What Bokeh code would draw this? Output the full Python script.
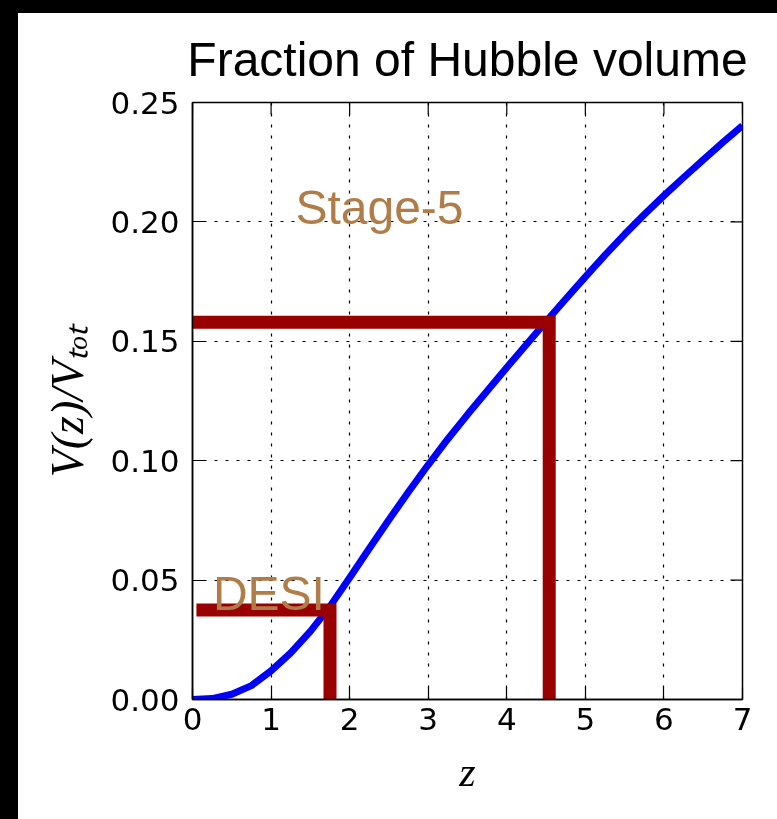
import math
from bokeh.plotting import figure
from bokeh.models import FixedTicker, Label, Range1d, NumeralTickFormatter, Spacer
from bokeh.layouts import column, row
from bokeh.embed import file_html
from bokeh.resources import INLINE

# ---- data ----
z_values = [0.0, 0.25, 0.5, 0.75, 1.0, 1.25, 1.5, 1.75, 2.0, 2.25, 2.5, 2.75, 3.0,
            3.25, 3.5, 3.75, 4.0, 4.25, 4.5, 4.75, 5.0, 5.25, 5.5, 5.75, 6.0,
            6.25, 6.5, 6.75, 7.0]
vfrac_values = [0.0, 0.0004, 0.0022, 0.0058, 0.0120, 0.0195, 0.0285, 0.0390, 0.0510,
                0.0632, 0.0753, 0.0870, 0.0983, 0.1091, 0.1193, 0.1292, 0.1390,
                0.1487, 0.1583, 0.1677, 0.1770, 0.1861, 0.1948, 0.2031, 0.2110,
                0.2186, 0.2260, 0.2333, 0.2403]

survey_names = ["DESI", "Stage-5"]
survey_z = [1.75, 4.54]          # redshift reach of each survey
survey_vfrac = [0.0375, 0.158]   # volume fraction reached
survey_zstart = [0.05, 0.0]

x_ticks = [0, 1, 2, 3, 4, 5, 6, 7]
y_ticks = [0.0, 0.05, 0.10, 0.15, 0.20, 0.25]

# ---- figure ----
p = figure(width=759, height=806, x_range=Range1d(0, 7), y_range=Range1d(0, 0.25),
           output_backend="svg", toolbar_location=None,
           title="Fraction of Hubble volume",
           min_border_left=174, min_border_right=35, min_border_top=89, min_border_bottom=120)
p.background_fill_color = "white"
p.border_fill_color = "white"
p.outline_line_color = "black"
p.outline_line_width = 1.5
p.outline_line_alpha = 1.0

p.title.text_font = "Liberation Sans"
p.title.text_font_size = "48px"
p.title.text_font_style = "normal"
p.title.text_color = "black"
p.title.align = "center"
p.title.standoff = 33

p.xaxis.ticker = FixedTicker(ticks=x_ticks)
p.yaxis.ticker = FixedTicker(ticks=y_ticks)
p.yaxis.formatter = NumeralTickFormatter(format="0.00")
for ax in (p.xaxis, p.yaxis):
    ax.major_tick_in = 12
    ax.major_tick_out = 0
    ax.major_tick_line_color = "black"
    ax.major_tick_line_width = 1.2
    ax.minor_tick_line_color = None
    ax.axis_line_color = "black"
    ax.axis_line_width = 1.5
    ax.major_label_text_font = "DejaVu Sans"
    ax.major_label_text_font_size = "31px"
    ax.major_label_text_color = "black"
    ax.axis_label_text_font = "Liberation Serif"
    ax.axis_label_text_font_style = "italic"
    ax.axis_label_text_color = "black"
p.xaxis.axis_label_text_font_size = "42px"
p.yaxis.axis_label_text_font_size = "46px"
p.xaxis.major_label_standoff = 8
p.yaxis.major_label_standoff = 13
p.xaxis.axis_label = "z"
p.yaxis.axis_label = "V(z)/V\u209c\u2092\u209c"
p.xaxis.axis_label_standoff = 16
p.yaxis.axis_label_standoff = 14

for g in (p.xgrid, p.ygrid):
    g.grid_line_color = "black"
    g.grid_line_dash = "3 8"
    g.grid_line_width = 1.2
    g.grid_line_alpha = 1.0

# inward ticks on the top and right edges
p.ray(x=x_ticks, y=[0.25] * len(x_ticks), length=12, angle=-math.pi / 2,
      length_units="screen", line_color="black", line_width=1.2)
p.ray(x=[7] * len(y_ticks), y=y_ticks, length=12, angle=math.pi,
      length_units="screen", line_color="black", line_width=1.2)

# curve
p.line(z_values, vfrac_values, line_color="#0000ff", line_width=7)

# survey markers
for zs, zr, vr in zip(survey_zstart, survey_z, survey_vfrac):
    p.line([zs, zr, zr], [vr, vr, 0.0], line_color="#990000", line_width=13,
           line_join="miter", line_cap="butt")

label_color = "#b07d48"
p.add_layout(Label(x=0.26, y=0.0443, text=survey_names[0], text_font="Liberation Sans",
                   text_font_size="48px", text_color=label_color,
                   text_baseline="alphabetic", text_align="left"))
p.add_layout(Label(x=1.31, y=0.2062, text=survey_names[1], text_font="Liberation Sans",
                   text_font_size="48px", text_color=label_color,
                   text_baseline="alphabetic", text_align="left"))

left_band = Spacer(width=18, height=819, background="black")
top_band = Spacer(width=759, height=13, background="black")
layout = row(left_band, column(top_band, p, spacing=0), spacing=0,
             styles={"position": "fixed", "left": "0px", "top": "0px"})

open("out.html", "w").write(file_html(layout, INLINE))
